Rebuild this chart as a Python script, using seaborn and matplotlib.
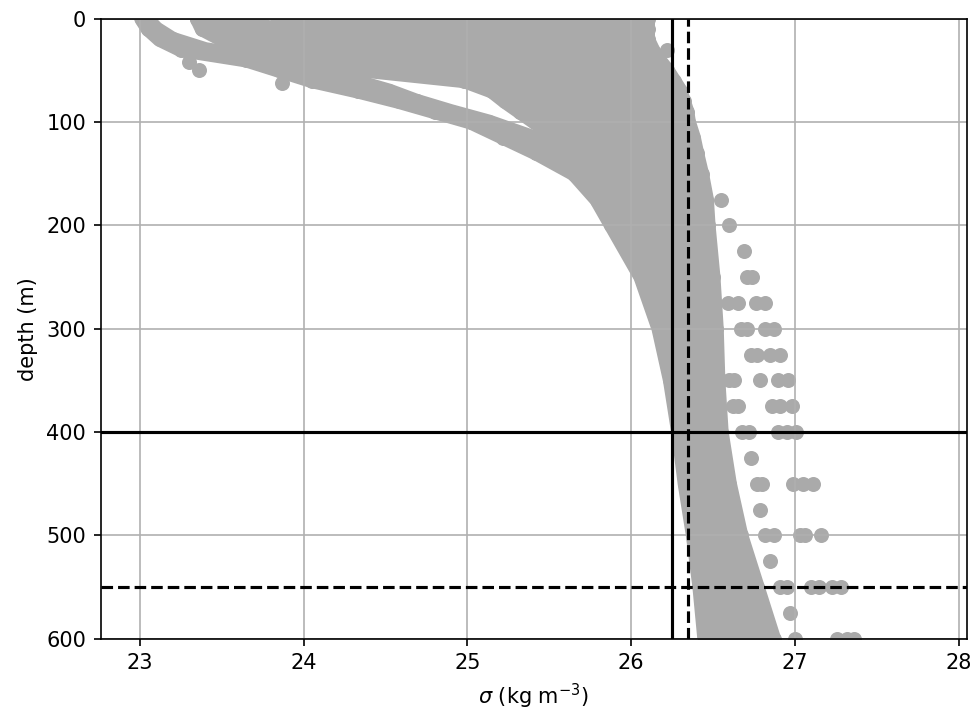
import matplotlib
matplotlib.use("Agg")
import matplotlib.pyplot as plt
import pandas as pd
import seaborn as sns

GRAY = "#aaaaaa"

# depth levels (m) shared by the dense profiles
depth_knots = [0, 10, 20, 30, 40, 50, 60, 70, 80, 90, 100, 115, 130, 150,
               175, 200, 250, 300, 350, 400, 450, 500, 550, 600]

# dense profiles: sigma (kg m-3) at depth_knots
prof_A1 = [23.01, 23.05, 23.12, 23.25, 23.65, 23.85, 24.05, 24.33, 24.58, 24.80, 25.02, 25.22,
           25.42, 25.65, 25.79, 25.88, 26.06, 26.17, 26.24, 26.29, 26.33, 26.38, 26.42, 26.45]
prof_A2 = [23.04, 23.10, 23.20, 23.40, 23.80, 24.05, 24.30, 24.52, 24.69, 24.90, 25.13, 25.40,
           25.55, 25.72, 25.85, 25.95, 26.08, 26.19, 26.26, 26.30, 26.34, 26.40, 26.44, 26.47]
prof_U0 = [23.35, 23.38, 23.50, 23.72, 23.98, 24.38, 24.98, 25.15, 25.23, 25.32, 25.41, 25.55,
           25.68, 25.82, 25.93, 26.02, 26.11, 26.21, 26.27, 26.32, 26.36, 26.41, 26.46, 26.49]
prof_U1 = [23.40, 23.54, 23.77, 24.06, 24.50, 25.01, 25.17, 25.25, 25.34, 25.43, 25.52, 25.65,
           25.76, 25.87, 25.97, 26.05, 26.13, 26.23, 26.29, 26.33, 26.37, 26.43, 26.48, 26.52]
prof_U2 = [23.56, 23.82, 24.14, 24.62, 25.05, 25.18, 25.27, 25.36, 25.45, 25.54, 25.63, 25.74,
           25.84, 25.93, 26.02, 26.08, 26.15, 26.24, 26.30, 26.34, 26.39, 26.44, 26.49, 26.54]
prof_U3 = [23.84, 24.22, 24.74, 25.08, 25.20, 25.28, 25.37, 25.47, 25.56, 25.65, 25.72, 25.82,
           25.89, 25.97, 26.05, 26.11, 26.18, 26.26, 26.32, 26.36, 26.40, 26.46, 26.51, 26.56]
prof_U4 = [24.20, 24.86, 25.12, 25.21, 25.30, 25.39, 25.49, 25.58, 25.66, 25.74, 25.81, 25.88,
           25.94, 26.01, 26.08, 26.14, 26.20, 26.28, 26.33, 26.37, 26.42, 26.47, 26.53, 26.58]
prof_U5 = [24.80, 25.15, 25.23, 25.32, 25.41, 25.50, 25.59, 25.68, 25.75, 25.82, 25.86, 25.93,
           25.98, 26.04, 26.10, 26.16, 26.22, 26.30, 26.35, 26.39, 26.43, 26.49, 26.55, 26.60]
prof_U6 = [25.12, 25.25, 25.34, 25.43, 25.52, 25.61, 25.69, 25.76, 25.83, 25.87, 25.92, 25.97,
           26.03, 26.07, 26.13, 26.18, 26.25, 26.32, 26.36, 26.40, 26.44, 26.50, 26.57, 26.63]
prof_U7 = [25.27, 25.36, 25.45, 25.54, 25.63, 25.71, 25.78, 25.84, 25.88, 25.93, 25.96, 26.02,
           26.05, 26.10, 26.15, 26.19, 26.27, 26.34, 26.38, 26.41, 26.46, 26.52, 26.59, 26.65]
prof_U8 = [25.37, 25.47, 25.56, 25.65, 25.72, 25.79, 25.85, 25.89, 25.93, 25.97, 26.01, 26.05,
           26.08, 26.13, 26.17, 26.21, 26.29, 26.35, 26.39, 26.43, 26.47, 26.53, 26.60, 26.67]
prof_R8 = [25.46, 25.54, 25.62, 25.70, 25.77, 25.84, 25.89, 25.94, 25.98, 26.01, 26.04, 26.08,
           26.12, 26.16, 26.21, 26.24, 26.31, 26.37, 26.41, 26.44, 26.49, 26.55, 26.62, 26.69]
prof_R7 = [25.54, 25.61, 25.68, 25.75, 25.82, 25.89, 25.94, 25.98, 26.02, 26.05, 26.08, 26.12,
           26.15, 26.20, 26.24, 26.27, 26.34, 26.39, 26.42, 26.45, 26.50, 26.56, 26.64, 26.72]
prof_R6 = [25.62, 25.68, 25.74, 25.81, 25.87, 25.93, 25.98, 26.03, 26.06, 26.09, 26.12, 26.16,
           26.19, 26.23, 26.27, 26.30, 26.36, 26.41, 26.44, 26.47, 26.51, 26.58, 26.66, 26.74]
prof_R5 = [25.70, 25.75, 25.80, 25.86, 25.92, 25.98, 26.03, 26.07, 26.10, 26.13, 26.16, 26.19,
           26.22, 26.26, 26.30, 26.33, 26.38, 26.43, 26.45, 26.48, 26.53, 26.59, 26.68, 26.76]
prof_R4 = [25.78, 25.82, 25.86, 25.91, 25.97, 26.03, 26.08, 26.12, 26.15, 26.18, 26.20, 26.23,
           26.26, 26.30, 26.33, 26.36, 26.41, 26.45, 26.47, 26.50, 26.54, 26.61, 26.70, 26.78]
prof_R3 = [25.86, 25.89, 25.92, 25.97, 26.02, 26.08, 26.12, 26.16, 26.19, 26.22, 26.24, 26.27,
           26.29, 26.33, 26.36, 26.38, 26.43, 26.46, 26.48, 26.51, 26.56, 26.62, 26.71, 26.80]
prof_R2 = [25.94, 25.96, 25.98, 26.02, 26.07, 26.13, 26.17, 26.21, 26.23, 26.26, 26.27, 26.31,
           26.33, 26.36, 26.40, 26.41, 26.45, 26.48, 26.50, 26.52, 26.57, 26.64, 26.73, 26.83]
prof_R1 = [26.02, 26.03, 26.04, 26.08, 26.12, 26.17, 26.21, 26.25, 26.28, 26.30, 26.31, 26.34,
           26.36, 26.40, 26.43, 26.44, 26.48, 26.50, 26.51, 26.54, 26.59, 26.65, 26.75, 26.85]
prof_R0 = [26.10, 26.10, 26.10, 26.13, 26.17, 26.22, 26.26, 26.30, 26.32, 26.34, 26.35, 26.38,
           26.40, 26.43, 26.46, 26.47, 26.50, 26.52, 26.53, 26.55, 26.60, 26.67, 26.77, 26.87]

# isolated observations (standard levels) outside the dense cloud
extra_depth = [42, 50, 62, 30,
               175, 200, 225, 250, 250,
               275, 275, 275, 275,
               300, 300, 300, 300,
               325, 325, 325, 325,
               350, 350, 350, 350, 350,
               375, 375, 375, 375, 375,
               400, 400, 400, 400, 400,
               425,
               450, 450, 450, 450, 450,
               475,
               500, 500, 500, 500, 500,
               525,
               550, 550, 550, 550, 550, 550,
               575,
               600, 600, 600, 600]
extra_sigma = [23.30, 23.36, 23.87, 26.22,
               26.55, 26.60, 26.69, 26.71, 26.74,
               26.59, 26.65, 26.76, 26.82,
               26.67, 26.71, 26.82, 26.87,
               26.73, 26.77, 26.85, 26.91,
               26.60, 26.63, 26.79, 26.90, 26.96,
               26.62, 26.65, 26.86, 26.91, 26.98,
               26.68, 26.72, 26.90, 26.95, 27.01,
               26.73,
               26.77, 26.80, 26.99, 27.05, 27.11,
               26.79,
               26.82, 26.87, 27.03, 27.06, 27.16,
               26.85,
               26.91, 26.95, 27.10, 27.15, 27.23, 27.28,
               26.97,
               27.00, 27.26, 27.32, 27.36]

x_ticks = [23, 24, 25, 26, 27, 28]
y_ticks = [0, 100, 200, 300, 400, 500, 600]
sigma_ref = [26.25, 26.35]     # solid, dashed
depth_ref = [400, 550]         # solid, dashed

profiles = {
    "A1": prof_A1, "A2": prof_A2,
    "U0": prof_U0, "U1": prof_U1, "U2": prof_U2, "U3": prof_U3, "U4": prof_U4,
    "U5": prof_U5, "U6": prof_U6, "U7": prof_U7, "U8": prof_U8,
    "R8": prof_R8, "R7": prof_R7, "R6": prof_R6, "R5": prof_R5, "R4": prof_R4,
    "R3": prof_R3, "R2": prof_R2, "R1": prof_R1, "R0": prof_R0,
}
rows = []
for name, sig in profiles.items():
    if len(sig) != len(depth_knots):
        print("length mismatch", name, len(sig))
    for d, s in zip(depth_knots, sig):
        rows.append((name, d, s))
dense = pd.DataFrame(rows, columns=["profile", "depth", "sigma"])
extra = pd.DataFrame({"depth": extra_depth, "sigma": extra_sigma})
allpts = pd.concat([dense[["depth", "sigma"]], extra], ignore_index=True)

DPI = 150
fig = plt.figure(figsize=(976 / DPI, 713 / DPI), dpi=DPI)
ax = fig.add_axes([0.1032, 0.1042, 0.8873, 0.8696])
ax.grid(True, color="#b0b0b0", lw=0.8)

MS = 7.2  # marker diameter in points
sns.lineplot(data=dense, x="sigma", y="depth", units="profile", estimator=None,
             sort=False, color=GRAY, lw=MS, solid_capstyle="round",
             solid_joinstyle="round", zorder=1, legend=False, ax=ax)
sns.scatterplot(data=allpts, x="sigma", y="depth", s=MS ** 2, color=GRAY,
                linewidth=0, zorder=1, legend=False, ax=ax)

ax.axvline(sigma_ref[0], color="k", lw=1.5)
ax.axvline(sigma_ref[1], color="k", lw=1.5, ls="--")
ax.axhline(depth_ref[0], color="k", lw=1.5)
ax.axhline(depth_ref[1], color="k", lw=1.5, ls="--")

ax.set_xlim(22.76, 28.05)
ax.set_ylim(600, 0)
ax.set_xticks(x_ticks)
ax.set_yticks(y_ticks)
ax.set_xlabel(r"$\sigma$ (kg m$^{-3}$)", fontsize=10)
ax.set_ylabel("depth (m)", fontsize=10)
ax.tick_params(labelsize=10)

fig.savefig("out.png", dpi=DPI)
